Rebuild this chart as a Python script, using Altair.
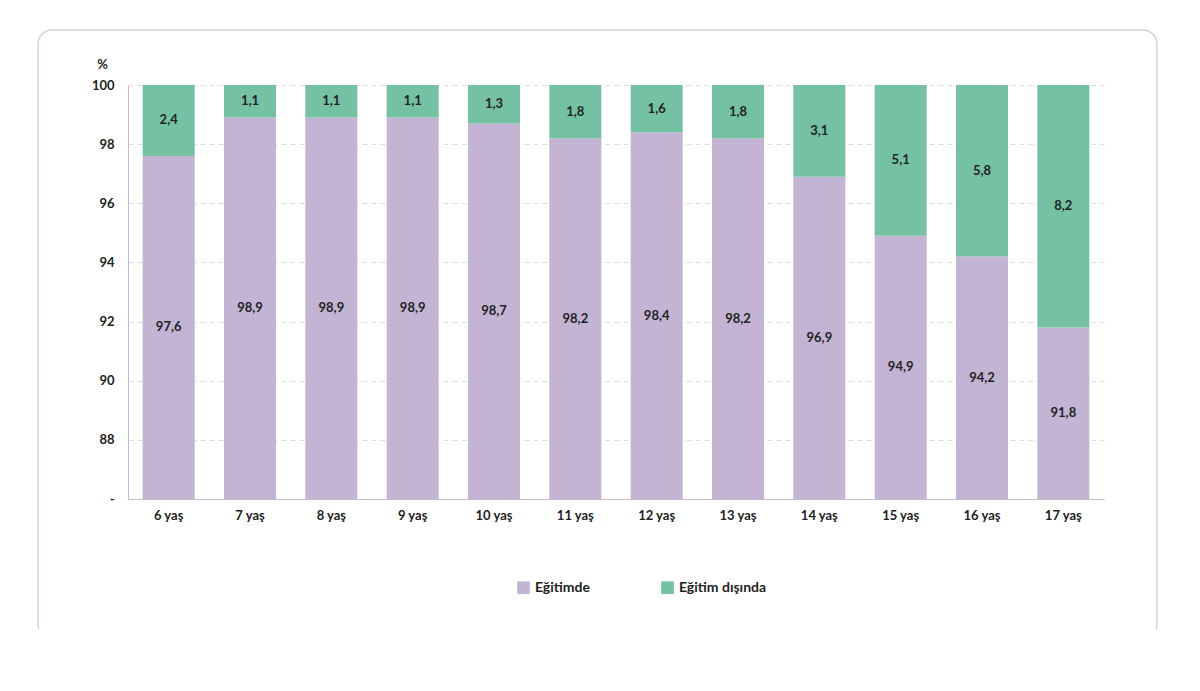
import altair as alt
import pandas as pd

ages = ["6 yaş", "7 yaş", "8 yaş", "9 yaş", "10 yaş", "11 yaş", "12 yaş",
        "13 yaş", "14 yaş", "15 yaş", "16 yaş", "17 yaş"]
in_school = [97.6, 98.9, 98.9, 98.9, 98.7, 98.2, 98.4, 98.2, 96.9, 94.9, 94.2, 91.8]
out_school = [2.4, 1.1, 1.1, 1.1, 1.3, 1.8, 1.6, 1.8, 3.1, 5.1, 5.8, 8.2]

rows = []
for a, v, o in zip(ages, in_school, out_school):
    rows.append({"age": a, "group": "Eğitimde", "lo": 86, "hi": v,
                 "label": f"{v:.1f}".replace(".", ",")})
    rows.append({"age": a, "group": "Eğitim dışında", "lo": v, "hi": 100,
                 "label": f"{o:.1f}".replace(".", ",")})
df = pd.DataFrame(rows)
df["mid"] = (df["lo"] + df["hi"]) / 2

FONT = "Lato"
x = alt.X("age:N", sort=ages, title=None,
          axis=alt.Axis(labelAngle=0, ticks=False, labelPadding=10, labelFontSize=13,
                        labelColor="#222", domainColor="#c4bad4", labelFont=FONT,
                        labelFontWeight="bold"))
y = alt.Y("lo:Q", scale=alt.Scale(domain=[86, 100], nice=False), title="%",
          axis=alt.Axis(values=list(range(86, 101, 2)), ticks=False,
                        labelExpr="datum.value == 86 ? '-' : datum.value",
                        gridDash=[5, 4], gridColor="#dddddd", domainColor="#c4bad4",
                        labelFontSize=13, labelColor="#222", labelFont=FONT,
                        labelFontWeight="bold", labelPadding=14,
                        titleAngle=0, titleAlign="center", titleY=-14, titleX=-26,
                        titleFontSize=13, titleFont=FONT, titleColor="#222"))

base = alt.Chart(df)
bars = base.mark_bar(size=52).encode(
    x=x, y=y, y2="hi:Q",
    color=alt.Color("group:N", sort=["Eğitimde", "Eğitim dışında"],
                    scale=alt.Scale(domain=["Eğitimde", "Eğitim dışında"],
                                    range=["#c3b4d4", "#74c2a3"]),
                    legend=alt.Legend(title=None, orient="none", direction="horizontal",
                                      legendX=388, legendY=495, symbolType="square",
                                      symbolSize=160, symbolOpacity=1, columnPadding=70,
                                      labelFontSize=14, labelFont=FONT,
                                      labelFontWeight="bold", labelColor="#222")),
)
labels = base.mark_text(font=FONT, fontSize=13, fontWeight="bold", color="#222").encode(
    x=alt.X("age:N", sort=ages), y="mid:Q", text="label:N")

frame = alt.Chart(pd.DataFrame({"k": [0]})).mark_rect(
    fill=None, stroke="#d8d0e0", strokeWidth=1.5, cornerRadius=14, clip=False
).encode(x=alt.value(-90), x2=alt.value(1029), y=alt.value(-55), y2=alt.value(553))

caption = alt.Chart(pd.DataFrame({"t": ["Kaynak: MEB (2023a) verileri kullanılarak ERG tarafından hesaplandı."]})).mark_text(
    align="left", font=FONT, fontSize=12, fontStyle="italic", color="#333"
).encode(x=alt.value(-90), y=alt.value(585), text="t:N")

chart = (frame + bars + labels + caption).properties(
    width=976, height=414,
    autosize=alt.AutoSizeParams(type="none"),
    padding={"left": 120, "top": 77, "right": 70, "bottom": 130},
    background="white",
).configure_view(stroke=None)

chart.save("out.html", embed_options={"renderer": "svg", "actions": False})
